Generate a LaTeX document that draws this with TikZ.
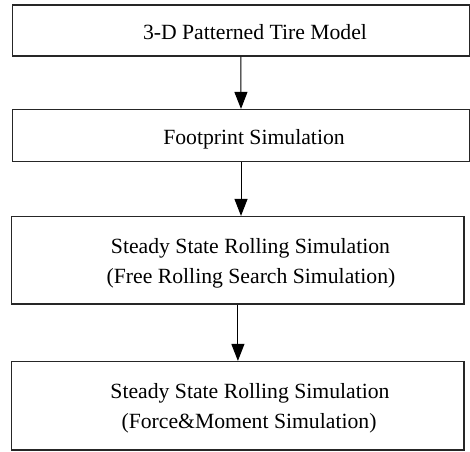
\documentclass[tikz,border=0pt]{standalone}
\usepackage{fontspec}
\setmainfont{Liberation Serif}
\usetikzlibrary{arrows.meta}
\begin{document}
\begin{tikzpicture}[x=1pt,y=-1pt,
  box/.style={draw=black!85, line width=1.2pt, rectangle, inner sep=0pt},
  lbl/.style={anchor=base, inner sep=0pt, font=\fontsize{21.7}{26}\selectfont},
  conn/.style={line width=1pt, -{Triangle[width=13pt,length=17pt]}}]
\useasboundingbox (0,0) rectangle (470,451);
\node[box, minimum width=457pt, minimum height=51pt] (b1) at (240.8,30.5) {};
\node[box, minimum width=456.6pt, minimum height=52.2pt] (b2) at (241,135.6) {};
\node[box, minimum width=452.3pt, minimum height=87.5pt] (b3) at (237.9,260.25) {};
\node[box, minimum width=452.3pt, minimum height=88.5pt] (b4) at (237.9,405.75) {};
\node[lbl] (t1) at (255,39) {3-D Patterned Tire Model};
\node[lbl] (t2) at (254,144.5) {Footprint Simulation};
\node[lbl] (t3a) at (250.5,253) {Steady State Rolling Simulation};
\node[lbl] (t3b) at (251,283) {(Free Rolling Search Simulation)};
\node[lbl] (t4a) at (250,398.5) {Steady State Rolling Simulation};
\node[lbl] (t4b) at (249,428.5) {(Force\&Moment Simulation)};
\draw[conn] (b1.south) -- (b2.north);
\draw[conn] (b2.south) -- (b2.south |- b3.north);
\draw[conn] (b3.south) -- (b4.north);
\end{tikzpicture}
\end{document}
